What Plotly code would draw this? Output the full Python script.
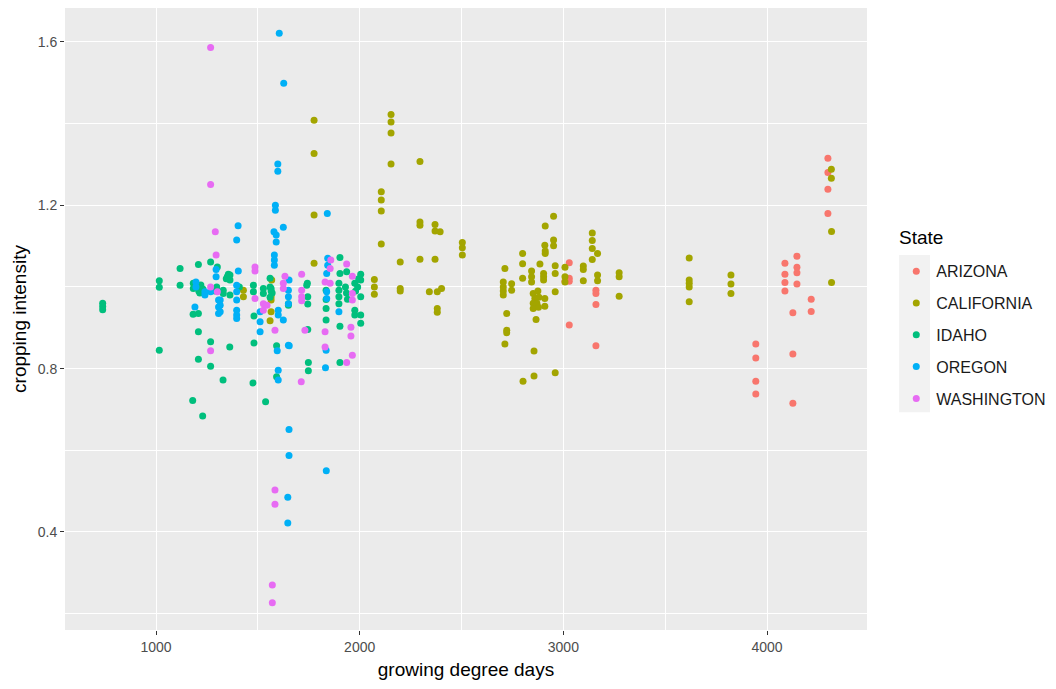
import plotly.graph_objects as go

# ---- data ----
states = ["ARIZONA", "CALIFORNIA", "IDAHO", "OREGON", "WASHINGTON"]
colors = ["#F8766D", "#A3A500", "#00BF7D", "#00B0F6", "#E76BF3"]

arizona_gdd = [3029, 3029, 3029, 3008, 3160, 3160, 3160, 3029, 3160,
               4299, 4299, 4299, 4299, 4147, 4147, 4147, 4147,
               4088, 4088, 4088, 4088, 4217, 4217, 4127, 4127, 4127,
               3945, 3945, 3945, 3945]
arizona_ci = [1.059, 1.021, 1.014, 1.014, 0.992, 0.984, 0.957, 0.907, 0.856,
              1.315, 1.280, 1.239, 1.180, 1.075, 1.048, 1.035, 1.007,
              1.058, 1.031, 1.011, 0.990, 0.970, 0.940, 0.937, 0.836, 0.715,
              0.860, 0.826, 0.769, 0.738]

california_gdd = [1429, 1429, 1568, 1565, 1565, 1565, 1560,
                  1776, 1776, 1776, 1776,
                  2072, 2072, 2072, 2106, 2106, 2106, 2106,
                  2154, 2154, 2154, 2154, 2199, 2199, 2199,
                  2296, 2296, 2296, 2296, 2370, 2370, 2395, 2370,
                  2342, 2381, 2381, 2381, 2402, 2504, 2504, 2504,
                  2705, 2705, 2705, 2705, 2713, 2722, 2722, 2722, 2713,
                  2746, 2746, 2800, 2800, 2800, 2802,
                  2844, 2844, 2844, 2852, 2860, 2852, 2852, 2866, 2856, 2856,
                  2885, 2875, 2880, 2870, 2878,
                  2903, 2903, 2903, 2909, 2909, 2909, 2911, 2911, 2911,
                  2952, 2952, 2952, 2960, 2960, 2960, 2960,
                  3008, 3008, 3008, 3098, 3098, 3098,
                  3142, 3142, 3142, 3142, 3168, 3168, 3168,
                  3274, 3274, 3274, 3618, 3618, 3618, 3618, 3618,
                  3823, 3823, 3823, 4316, 4316, 4317, 4317]
california_ci = [0.992, 0.976, 1.017, 0.976, 0.968, 0.939, 0.917,
                 1.408, 1.327, 1.176, 1.058,
                 1.018, 1.000, 0.982, 1.233, 1.213, 1.186, 1.105,
                 1.422, 1.404, 1.377, 1.301, 1.061, 0.996, 0.990,
                 1.307, 1.159, 1.151, 1.068, 1.153, 1.137, 1.135, 1.068,
                 0.988, 0.988, 0.947, 0.938, 0.996, 1.109, 1.096, 1.078,
                 1.012, 1.000, 0.990, 0.980, 1.045, 0.935, 0.894, 0.888, 0.860,
                 1.008, 0.992, 1.082, 1.057, 1.021, 0.769,
                 1.039, 1.025, 1.012, 0.984, 0.972, 0.960, 0.947, 0.920, 0.843, 0.782,
                 1.056, 0.990, 0.975, 0.960, 0.950,
                 1.033, 1.025, 1.017, 0.972, 0.953, 1.102, 1.149, 1.088, 1.082,
                 1.173, 1.115, 1.101, 1.052, 1.033, 0.988, 0.790,
                 1.048, 1.025, 1.012, 1.051, 1.043, 1.015,
                 1.132, 1.114, 1.094, 1.067, 1.082, 1.029, 1.015,
                 1.035, 1.025, 0.977, 1.071, 1.017, 1.009, 1.000, 0.964,
                 1.029, 1.007, 0.984, 1.288, 1.266, 1.136, 1.011]

idaho_gdd = [738, 738, 738, 1016, 1016, 1016, 1118, 1118,
             1183, 1183, 1182, 1180, 1200, 1210, 1220, 1215, 1230,
             1208, 1208, 1208, 1208, 1268, 1268, 1268, 1229,
             1301, 1298, 1290, 1329, 1330, 1330, 1355, 1350, 1345,
             1363, 1363, 1363, 1362, 1409, 1476, 1478, 1478, 1481, 1481,
             1527, 1527, 1538, 1560, 1560, 1565, 1570, 1560, 1565,
             1592, 1592, 1650, 1650,
             1740, 1743, 1745, 1745, 1745, 1748, 1748,
             1835, 1835, 1835, 1835,
             1903, 1903, 1898, 1898, 1898, 1898, 1903, 1903,
             1936, 1930, 1935, 1940, 1976, 1976, 1976, 1980,
             2005, 2005, 2005, 2005, 2005, 1990, 1995]
idaho_ci = [0.960, 0.952, 0.944, 1.015, 0.999, 0.845, 1.045, 1.004,
            1.009, 0.996, 0.933, 0.722, 1.000, 0.990, 1.005, 0.985, 0.995,
            1.055, 0.935, 0.890, 0.823, 1.061, 0.866, 0.806, 0.684,
            1.049, 1.000, 0.990, 0.772, 0.992, 0.984, 1.031, 1.025, 1.020,
            0.980, 1.029, 1.017, 0.853, 1.000, 0.765, 1.004, 0.988, 0.929, 0.863,
            0.996, 0.984, 0.719, 1.021, 1.000, 0.990, 0.985, 0.975, 0.996,
            0.856, 0.780, 0.959, 0.955,
            1.004, 1.009, 0.976, 0.958, 0.896, 0.815, 0.795,
            0.992, 0.969, 0.947, 0.919,
            1.072, 1.033, 1.009, 0.992, 0.976, 0.959, 0.904, 0.815,
            1.037, 1.000, 0.985, 0.970, 1.009, 0.943, 0.931, 0.990,
            1.031, 1.017, 0.976, 0.931, 0.911, 1.000, 1.020]

oregon_gdd = [1605, 1627, 1598, 1598, 1586, 1586, 1403, 1396,
              1579, 1590, 1590, 1625, 1581, 1581, 1581,
              1191, 1196, 1196, 1240, 1240, 1268, 1295, 1295,
              1307, 1307, 1307, 1315, 1315, 1315,
              1396, 1396, 1396, 1396, 1396, 1396, 1404,
              1511, 1511, 1511, 1600, 1600, 1625,
              1653, 1650, 1650, 1650, 1650, 1654, 1595, 1600, 1600,
              1653, 1653, 1647, 1647, 1836,
              1841, 1843, 1843, 1838, 1838, 1838, 1898, 1832, 1835]
oregon_ci = [1.621, 1.499, 1.301, 1.283, 1.200, 1.188, 1.150, 1.115,
             1.135, 1.127, 1.110, 1.146, 1.078, 1.066, 1.053,
             0.951, 1.012, 1.000, 0.988, 0.980, 0.988, 1.043, 1.025,
             0.968, 0.951, 0.935, 0.968, 0.955, 0.939,
             1.004, 0.988, 0.968, 0.943, 0.931, 0.923, 1.039,
             0.939, 0.915, 0.890, 0.943, 0.931, 0.919,
             1.017, 0.992, 0.976, 0.959, 0.857, 0.856, 0.844, 0.796, 0.772,
             0.651, 0.587, 0.485, 0.422, 0.550,
             1.180, 1.070, 1.053, 1.033, 0.988, 0.972, 0.939, 0.802, 0.845]

washington_gdd = [1268, 1268, 1291, 1295, 1268, 1268, 1301,
                  1486, 1486, 1486, 1527, 1527, 1545, 1584,
                  1584, 1584, 1571, 1571, 1633, 1625, 1625,
                  1715, 1715, 1715, 1715, 1731, 1713,
                  1830, 1855, 1858, 1855, 1830, 1830,
                  1936, 1964, 1964, 1964, 1957, 1957, 1964, 1936]
washington_ci = [1.586, 1.251, 1.135, 1.078, 0.844, 1.000, 0.988,
                 1.049, 1.039, 0.972, 0.959, 0.943, 0.955, 0.894,
                 0.503, 0.468, 0.270, 0.227, 1.026, 1.009, 0.996,
                 1.031, 0.992, 0.976, 0.966, 0.894, 0.768,
                 1.012, 1.009, 1.066, 1.045, 0.890, 0.853,
                 1.056, 1.026, 0.984, 0.968, 0.901, 0.880, 0.833, 0.815]

x_ticks = [1000, 2000, 3000, 4000]
y_ticks = [0.4, 0.8, 1.2, 1.6]

series_x = [arizona_gdd, california_gdd, idaho_gdd, oregon_gdd, washington_gdd]
series_y = [arizona_ci, california_ci, idaho_ci, oregon_ci, washington_ci]

FONT = "Liberation Sans, Arial, sans-serif"

fig = go.Figure()
for name, col, xs, ys in zip(states, colors, series_x, series_y):
    fig.add_trace(go.Scatter(
        x=xs, y=ys, mode="markers", name=name, legendgroup=name,
        marker=dict(color=col, size=7, line=dict(width=0)),
    ))

fig.update_layout(
    width=1056, height=689,
    margin=dict(l=65, r=189, t=8, b=59, autoexpand=False),
    paper_bgcolor="white",
    plot_bgcolor="#EBEBEB",
    font=dict(family=FONT, color="#000000"),
    showlegend=True,
    legend=dict(
        font=dict(size=16, color="#1A1A1A"),
        x=1.0365, xanchor="left", y=0.604, yanchor="top",
        bgcolor="rgba(0,0,0,0)",
        tracegroupgap=8,
    ),
    annotations=[dict(text="State", xref="paper", yref="paper",
                      x=1.0374, y=0.6318, xanchor="left", yanchor="middle",
                      showarrow=False, font=dict(size=19, color="#000000"))],
    shapes=[dict(type="rect", xref="paper", yref="paper",
                 x0=1.040, x1=1.0786, y0=0.350, y1=0.603,
                 fillcolor="#F2F2F2", line=dict(width=0), layer="below")],
)

fig.update_xaxes(
    range=[553, 4491], tickvals=x_ticks, ticktext=[str(v) for v in x_ticks],
    showgrid=True, gridcolor="white", gridwidth=1.4, zeroline=False,
    ticks="outside", ticklen=4, tickcolor="#333333", tickwidth=1,
    tickfont=dict(size=14, color="#4D4D4D"),
    minor=dict(tickvals=[500, 1500, 2500, 3500, 4500], showgrid=True,
               gridcolor="white", gridwidth=0.7, ticks=""),
    showline=False,
    title=dict(text="growing degree days", font=dict(size=19, color="#000000"), standoff=8),
)
fig.update_yaxes(
    range=[0.160, 1.683], tickvals=y_ticks, ticktext=[f"{v:.1f}" for v in y_ticks],
    showgrid=True, gridcolor="white", gridwidth=1.4, zeroline=False,
    ticks="outside", ticklen=4, tickcolor="#333333", tickwidth=1,
    tickfont=dict(size=14, color="#4D4D4D"),
    minor=dict(tickvals=[0.2, 0.6, 1.0, 1.4], showgrid=True,
               gridcolor="white", gridwidth=0.7, ticks=""),
    showline=False,
    title=dict(text="cropping intensity", font=dict(size=19, color="#000000"), standoff=6),
)

fig.write_html("out.html")
